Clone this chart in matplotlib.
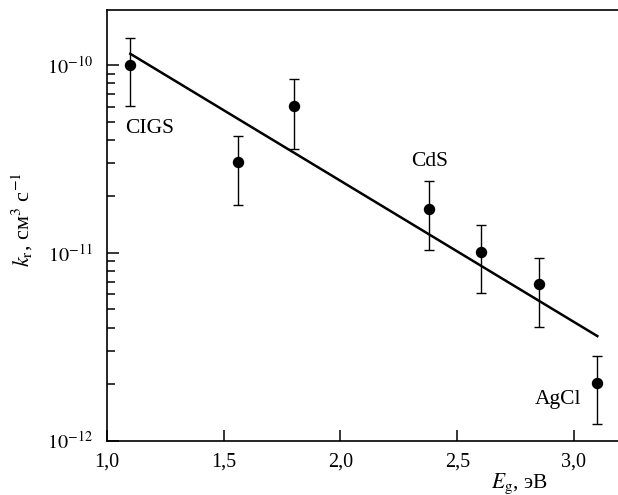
"""
k_r vs band gap E_g: measured points with error bars plus the straight fit
on the log scale. Saves out.png.
"""

import numpy as np
import matplotlib
matplotlib.use("Agg")
import matplotlib.pyplot as plt
from matplotlib.ticker import FixedLocator, FuncFormatter, NullFormatter

plt.rcParams["font.family"] = ["Liberation Serif", "DejaVu Serif"]
plt.rcParams["mathtext.fontset"] = "stix"

# data
eg     = [1.10, 1.56, 1.80, 2.38, 2.60, 2.85, 3.10]
kr     = [1.00e-10, 3.05e-11, 6.05e-11, 1.71e-11, 1.01e-11, 6.8e-12, 2.03e-12]
kr_top = [1.40e-10, 4.2e-11, 8.4e-11, 2.4e-11, 1.41e-11, 9.4e-12, 2.83e-12]
kr_bot = [6.05e-11, 1.8e-11, 3.57e-11, 1.03e-11, 6.1e-12, 4.05e-12, 1.22e-12]

fit_x = [1.10, 3.10]
fit_y = [1.15e-10, 3.6e-12]

names   = ["CIGS", "CdS", "AgCl"]
name_x  = [1.077, 2.38, 2.93]
name_y  = [4.62e-11, 3.05e-11, 1.65e-12]
name_ha = ["left", "center", "center"]

x_ticks = [1.0, 1.5, 2.0, 2.5, 3.0]
y_ticks = [1e-12, 1e-11, 1e-10]
y_minor = [m * d for d in (1e-12, 1e-11, 1e-10) for m in range(2, 10)]


fig = plt.figure(figsize=(6.18, 4.95), dpi=100)
ax = fig.add_axes([0.1731, 0.1101, 0.8269, 0.8707])

kr = np.array(kr)
err = [kr - np.array(kr_bot), np.array(kr_top) - kr]
ax.errorbar(eg, kr, yerr=err, fmt="o", color="black", ms=7.2, lw=1.0,
            capsize=3.9, capthick=1.0, zorder=3)
ax.plot(fit_x, fit_y, color="black", lw=1.8)

for t, x, y, ha in zip(names, name_x, name_y, name_ha):
    ax.text(x, y, t, ha=ha, va="center", fontsize=15.5)

ax.set_yscale("log")
ax.set_xlim(1.0, 1 + 511 / 233.5)
ax.set_ylim(1e-12, 1.98e-10)

ax.xaxis.set_major_locator(FixedLocator(x_ticks))
ax.xaxis.set_major_formatter(FuncFormatter(lambda v, p: f"{v:.1f}".replace(".", ",")))
ax.yaxis.set_major_locator(FixedLocator(y_ticks))
ax.yaxis.set_minor_locator(FixedLocator([v for v in y_minor if v < 1.98e-10]))
ax.yaxis.set_minor_formatter(NullFormatter())
ax.yaxis.set_major_formatter(FuncFormatter(
    lambda v, p: f"$10^{{{int(round(np.log10(v)))}}}$"))

ax.tick_params(which="both", direction="in", top=False, right=False,
               labelsize=14.5, width=1.1)
ax.tick_params(axis="y", which="major", length=8.4, pad=10)
ax.tick_params(axis="y", which="minor", length=5.5)
ax.tick_params(axis="x", which="major", length=7.7, pad=9)
ax.spines["right"].set_visible(False)
for s in ("left", "bottom", "top"):
    ax.spines[s].set_linewidth(1.2)

ax.text(0.808, -0.10, "$E_\\mathrm{g}$, эВ", transform=ax.transAxes,
        ha="center", va="center", fontsize=15.5)
ax.text(-0.166, 0.512, "$k_\\mathrm{r}$, см$^3$ с$^{-1}$", transform=ax.transAxes,
        ha="center", va="center", rotation=90, fontsize=16)

fig.savefig("out.png", dpi=100)
